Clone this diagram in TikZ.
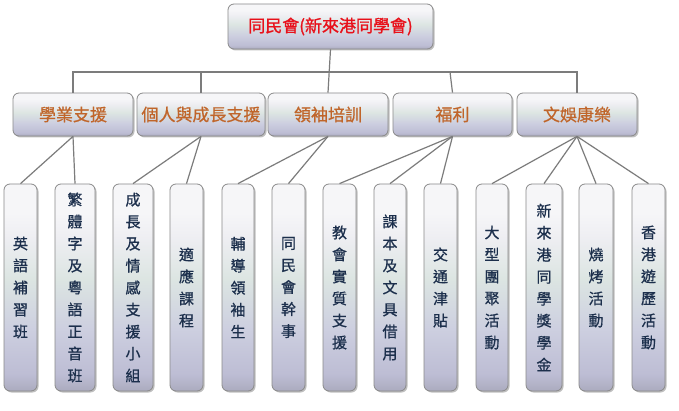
\documentclass[tikz,border=0pt]{standalone}
\usepackage{fontspec}
\newfontfamily\cjk{Noto Sans CJK TC}[FakeBold=0.8]
\newfontfamily\cjkroot{Noto Sans CJK TC}[FakeBold=1.2]
\usetikzlibrary{shadows}
\definecolor{cT}{HTML}{F6F6F8}
\definecolor{cA}{HTML}{EEEEF2}
\definecolor{cG}{HTML}{DCE5E2}
\definecolor{cL}{HTML}{CDCFE0}
\definecolor{cP}{HTML}{BDBDD4}
\definecolor{cB}{HTML}{ABABBE}
\definecolor{boxline}{HTML}{8A8A8A}
\definecolor{linegray}{HTML}{7C7C7C}
\definecolor{rootred}{HTML}{E8101A}
\definecolor{catbrown}{HTML}{C0652A}
\definecolor{leafblue}{HTML}{1C2F4C}
\pgfdeclareverticalshading{boxshade}{100bp}{color(0bp)=(cB); color(25bp)=(cB); color(29bp)=(cP); color(40bp)=(cL); color(52bp)=(cG); color(62bp)=(cA); color(68bp)=(cT); color(75bp)=(cT); color(100bp)=(cT)}
\begin{document}
\begin{tikzpicture}[x=1pt,y=-1pt,
  box/.style={draw=boxline, line width=0.8pt, rounded corners=6pt, shading=boxshade,
    drop shadow={shadow xshift=1.5pt, shadow yshift=-1.5pt, fill=black, opacity=0.25},
    inner sep=0pt},
  rootbox/.style={box, minimum width=205pt, minimum height=45pt, text=rootred,
    font=\cjkroot\fontsize{17}{20}\selectfont},
  catbox/.style={box, minimum height=43pt, text=catbrown,
    font=\cjk\fontsize{17}{20}\selectfont},
  leafbox/.style={box, minimum height=207pt, text=leafblue, align=center,
    font=\cjk\fontsize{15}{22}\selectfont},
  link/.style={draw=linegray, line width=1.2pt}]
\useasboundingbox[fill=white] (0,0) rectangle (679,411);
\coordinate (bus) at (0,72);

\node[rootbox] (root) at (330.5,26.5) {同民會(新來港同學會)};

\node[catbox, minimum width=120pt] (c1) at (73,114.5) {學業支援};
\node[catbox, minimum width=128pt] (c2) at (201,114.5) {個人與成長支援};
\node[catbox, minimum width=120pt] (c3) at (328,114.5) {領袖培訓};
\node[catbox, minimum width=119pt] (c4) at (452.5,114.5) {福利};
\node[catbox, minimum width=120pt] (c5) at (577,114.5) {文娛康樂};

\node[leafbox, minimum width=33pt] (e1) at (20.5,287.5) {英\\語\\補\\習\\班};
\node[leafbox, minimum width=40pt] (e2) at (75,287.5) {繁\\體\\字\\及\\粵\\語\\正\\音\\班};
\node[leafbox, minimum width=40pt] (e3) at (133,287.5) {成\\長\\及\\情\\感\\支\\援\\小\\組};
\node[leafbox, minimum width=33pt] (e4) at (186.5,287.5) {適\\應\\課\\程};
\node[leafbox, minimum width=32pt] (e5) at (238,287.5) {輔\\導\\領\\袖\\生};
\node[leafbox, minimum width=33pt] (e6) at (288.5,287.5) {同\\民\\會\\幹\\事};
\node[leafbox, minimum width=33pt] (e7) at (339.5,287.5) {教\\會\\實\\質\\支\\援};
\node[leafbox, minimum width=32pt] (e8) at (390,287.5) {課\\本\\及\\文\\具\\借\\用};
\node[leafbox, minimum width=33pt] (e9) at (440.5,287.5) {交\\通\\津\\貼};
\node[leafbox, minimum width=32pt] (e10) at (492,287.5) {大\\型\\團\\聚\\活\\動};
\node[leafbox, minimum width=36pt] (e11) at (544,287.5) {新\\來\\港\\同\\學\\獎\\學\\金};
\node[leafbox, minimum width=34pt] (e12) at (596,287.5) {燒\\烤\\活\\動};
\node[leafbox, minimum width=33pt] (e13) at (648.5,287.5) {香\\港\\遊\\歷\\活\\動};

\draw[link] (root.south) -- (c3.north);
\draw[link] (c1.north) -- (c1.north |- bus) -- (c5.north |- bus) -- (c5.north);
\draw[link] (c2.north) -- (c2.north |- bus);
\draw[link] (c4.north) -- ([xshift=-2.5pt]c4.north |- bus);

\draw[link] (c1.south) -- (e1.north);
\draw[link] (c1.south) -- (e2.north);
\draw[link] (c2.south) -- (e3.north);
\draw[link] (c2.south) -- (e4.north);
\draw[link] (c3.south) -- (e5.north);
\draw[link] (c3.south) -- (e6.north);
\draw[link] (c4.south) -- (e7.north);
\draw[link] (c4.south) -- (e8.north);
\draw[link] (c4.south) -- (e9.north);
\draw[link] (c5.south) -- (e10.north);
\draw[link] (c5.south) -- (e11.north);
\draw[link] (c5.south) -- (e12.north);
\draw[link] (c5.south) -- (e13.north);
\end{tikzpicture}
\end{document}
